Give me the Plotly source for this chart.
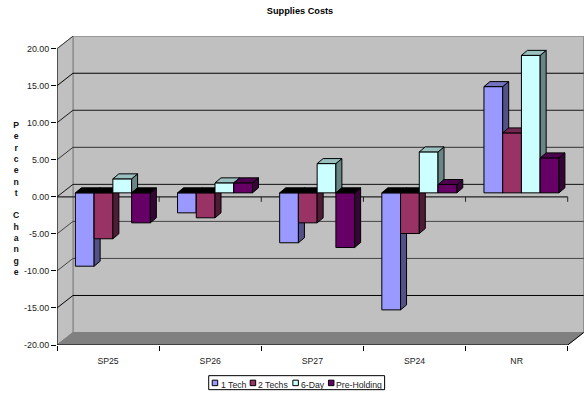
import plotly.graph_objects as go

CATEGORIES = ["SP25", "SP26", "SP27", "SP24", "NR"]
SERIES_NAMES = ["1 Tech", "2 Techs", "6-Day", "Pre-Holding"]
TECH_1 = [-9.9, -2.7, -6.74, -15.8, 14.34]
TECH_2 = [-6.2, -3.37, -4.05, -5.49, 8.09]
SIX_DAY = [1.89, 1.35, 3.95, 5.53, 18.56]
PRE_HOLDING = [-4.05, 1.35, -7.38, 1.12, 4.72]
SERIES_VALUES = [TECH_1, TECH_2, SIX_DAY, PRE_HOLDING]
Y_TICKS = [-20, -15, -10, -5, 0, 5, 10, 15, 20]
Y_TICK_LABELS = ["-20.00", "-15.00", "-10.00", "-5.00", "0.00", "5.00", "10.00", "15.00", "20.00"]

FRONT = ["#9999FF", "#993366", "#CCFFFF", "#660066"]
SIDE = ["#525288", "#4F1C35", "#6A8585", "#350535"]
TOP = ["#7373BF", "#732650", "#99BFBF", "#4D004D"]

FONT = "Liberation Sans, Arial, sans-serif"
W, H = 588, 393
LEFT, RIGHT, TOP_PX, BOTTOM_PX = 56.7, 584.0, 36.0, 345.3
CAT_PX = 102.2
UNIT_PX = 7.415

# Pseudo-3D geometry, in axis units
WALL_DX = 16.0 / CAT_PX
WALL_DY = 12.5 / UNIT_PX
BAR_W = 18.75 / CAT_PX
BAR_DX = 6.0 / CAT_PX
BAR_DY = 5.0 / UNIT_PX
BAR_BASE = 4.0 / UNIT_PX
CLUSTER_SHIFT = 4.8 / CAT_PX

X_RANGE = [0, (RIGHT - LEFT) / CAT_PX]
Y_RANGE = [-20, -20 + (BOTTOM_PX - TOP_PX) / UNIT_PX]
N = len(CATEGORIES)


def px_x(p):
    return (p - LEFT) / (RIGHT - LEFT)


def px_y(p):
    return (BOTTOM_PX - p) / (BOTTOM_PX - TOP_PX)


def polygon_path(points):
    return "M" + " L".join(f"{x},{y}" for x, y in points) + " Z"


shapes = []


def add_poly(points, fill, line="#808080", width=1):
    shapes.append(dict(type="path", xref="x", yref="y", layer="below", path=polygon_path(points),
                       fillcolor=fill, line=dict(color=line, width=width)))


def add_line(x0, y0, x1, y1, color="black", width=1):
    shapes.append(dict(type="line", xref="x", yref="y", layer="below", x0=x0, y0=y0, x1=x1, y1=y1,
                       line=dict(color=color, width=width)))


# Walls and floor
add_poly([(WALL_DX, -20 + WALL_DY), (N + WALL_DX, -20 + WALL_DY), (N + WALL_DX, 20 + WALL_DY), (WALL_DX, 20 + WALL_DY)], "#C0C0C0")
add_poly([(0, -20), (WALL_DX, -20 + WALL_DY), (WALL_DX, 20 + WALL_DY), (0, 20)], "#C0C0C0")
add_poly([(0, -20), (N, -20), (N + WALL_DX, -20 + WALL_DY), (WALL_DX, -20 + WALL_DY)], "#808080")

# Gridlines on the back and left walls
GRID_SHADES = {-15: "#000000", -10: "#444444", -5: "#444444", 0: "#111111", 5: "#333333", 10: "#1A1A1A", 15: "#000000"}
for v, shade in GRID_SHADES.items():
    add_line(WALL_DX, v + WALL_DY, N + WALL_DX, v + WALL_DY, shade)
    add_line(0, v, WALL_DX, v + WALL_DY, shade)
add_line(0, 20, WALL_DX, 20 + WALL_DY, "#404040")

# Front edges of the box
add_line(0, -20, 0, 20)
add_line(0, -20, N, -20)
add_line(N, -20, N + WALL_DX, -20 + WALL_DY)
add_line(0, 0, N, 0, "#222222", 1.2)
for i in range(1, N + 1):
    add_line(i, 0, i, -5.0 / UNIT_PX, "#222222")

fig = go.Figure()

# Each series sits on its own overlaid axis pair so later bars paint over earlier side faces
for s, (name, values) in enumerate(zip(SERIES_NAMES, SERIES_VALUES)):
    suffix = "" if s == 0 else str(s + 1)
    xa, ya = "x" + suffix, "y" + suffix
    centers = [c + 0.5 + CLUSTER_SHIFT + (s - 1.5) * BAR_W for c in range(N)]
    fig.add_trace(go.Bar(x=centers, y=values, base=BAR_BASE, width=BAR_W, name=name,
                         marker=dict(color=FRONT[s], line=dict(color="black", width=1)),
                         xaxis=xa, yaxis=ya, showlegend=False))
    side_x, side_y = [], []
    up_x, up_y = [], []
    down_x, down_y = [], []
    for c, v in zip(centers, values):
        xl, xr = c - BAR_W / 2, c + BAR_W / 2
        y_end = BAR_BASE + v
        y_top = max(BAR_BASE, y_end)
        side_x += [xr, xr + BAR_DX, xr + BAR_DX, xr, xr, None]
        side_y += [BAR_BASE, BAR_BASE + BAR_DY, y_end + BAR_DY, y_end, BAR_BASE, None]
        tx, ty = (up_x, up_y) if v >= 0 else (down_x, down_y)
        tx += [xl, xr, xr + BAR_DX, xl + BAR_DX, xl, None]
        ty += [y_top, y_top, y_top + BAR_DY, y_top + BAR_DY, y_top, None]
    for px_, py_, fill in ((side_x, side_y, SIDE[s]), (up_x, up_y, TOP[s]), (down_x, down_y, "#000000")):
        if px_:
            fig.add_trace(go.Scatter(x=px_, y=py_, mode="lines", fill="toself", fillcolor=fill,
                                     line=dict(color="black", width=1), xaxis=xa, yaxis=ya,
                                     hoverinfo="skip", showlegend=False))

annotations = [dict(xref="paper", yref="paper", x=px_x(16), y=px_y(198.5), showarrow=False,
                    xanchor="center", yanchor="middle", align="center",
                    text="<b>" + "<br>".join(list("Percent") + [" "] + list("Change")) + "</b>",
                    font=dict(family=FONT, size=8.7, color="#111111"))]

# Compact boxed key below the plot
shapes.append(dict(type="rect", xref="paper", yref="paper", x0=px_x(208.5), x1=px_x(384.5), y0=px_y(390), y1=px_y(376),
                   fillcolor="white", line=dict(color="black", width=1)))
KEY_SWATCH_PX = [212, 250, 292.7, 328.3]
KEY_TEXT_PX = [219.3, 257.3, 300, 335]
for s, name in enumerate(SERIES_NAMES):
    shapes.append(dict(type="rect", xref="paper", yref="paper", x0=px_x(KEY_SWATCH_PX[s]), x1=px_x(KEY_SWATCH_PX[s] + 5.5),
                       y0=px_y(386), y1=px_y(380.5), fillcolor=FRONT[s], line=dict(color="black", width=1)))
    annotations.append(dict(xref="paper", yref="paper", x=px_x(KEY_TEXT_PX[s]), y=px_y(385), text=name, showarrow=False,
                            xanchor="left", yanchor="middle", xshift=-1, font=dict(family=FONT, size=8.7, color="#222222")))

layout = dict(
    width=W, height=H, autosize=False, paper_bgcolor="white", plot_bgcolor="white",
    margin=dict(l=LEFT, r=W - RIGHT, t=TOP_PX, b=H - BOTTOM_PX, pad=0),
    barmode="overlay", showlegend=False, shapes=shapes, annotations=annotations,
    title=dict(text="<b>Supplies Costs</b>", xref="container", yref="container", x=300 / W, y=1 - 11 / H,
               xanchor="center", yanchor="middle", font=dict(family=FONT, size=9.2, color="black")),
    xaxis=dict(range=X_RANGE, tickvals=[i + 0.5 for i in range(N)], ticktext=CATEGORIES, ticks="outside", ticklen=8,
               tickcolor="rgba(0,0,0,0)", showgrid=False, zeroline=False, showline=False,
               tickfont=dict(family=FONT, size=8.7, color="#222222"),
               minor=dict(tickmode="array", tickvals=list(range(N + 1)), ticks="outside", ticklen=5, tickcolor="black", showgrid=False)),
    yaxis=dict(range=Y_RANGE, tickvals=Y_TICKS, ticktext=Y_TICK_LABELS, ticks="outside", ticklen=5, tickcolor="black",
               showgrid=False, zeroline=False, showline=False,
               tickfont=dict(family=FONT, size=8.9, color="#222222")),
)
for s in range(2, 5):
    layout[f"xaxis{s}"] = dict(range=X_RANGE, overlaying="x", visible=False)
    layout[f"yaxis{s}"] = dict(range=Y_RANGE, overlaying="y", visible=False)
fig.update_layout(**layout)

fig.write_html("out.html")
